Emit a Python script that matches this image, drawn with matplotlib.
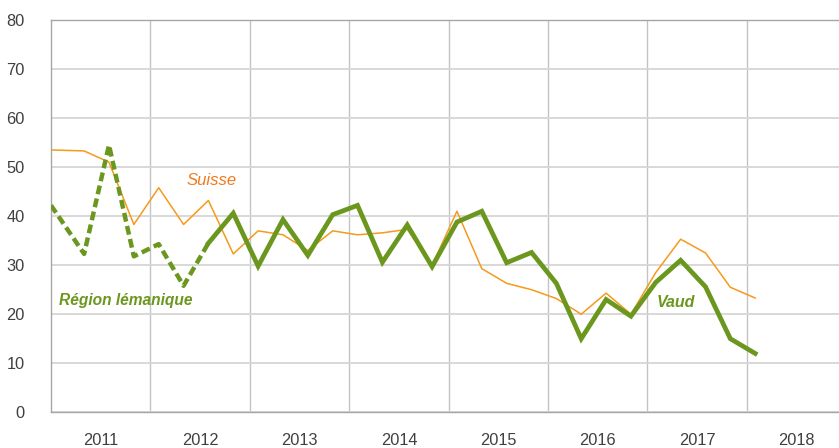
import numpy as np
import matplotlib
matplotlib.use("Agg")
import matplotlib.pyplot as plt
from matplotlib.ticker import FixedLocator, NullFormatter

plt.rcParams['font.family'] = ['Liberation Sans', 'DejaVu Sans']

# observation dates (year, month)
years = [2011, 2011, 2011, 2011,
         2012, 2012, 2012, 2012,
         2013, 2013, 2013, 2013,
         2014, 2014, 2014, 2014,
         2015, 2015, 2015, 2015,
         2016, 2016, 2016, 2016,
         2017, 2017, 2017, 2017,
         2018]
months = [1, 5, 8, 11] + [2, 5, 8, 11] * 6 + [2]

suisse = [53.5, 53.3, 51.0, 38.3,
          45.8, 38.3, 43.2, 32.3,
          37.0, 36.2, 33.0, 37.0,
          36.2, 36.6, 37.3, 30.0,
          41.0, 29.3, 26.3, 25.0,
          23.2, 20.0, 24.3, 20.0,
          28.5, 35.3, 32.5, 25.5,
          23.3]
# Région lémanique up to 2012-08, then Vaud
lemanique = [42.2, 32.3, 54.5, 31.8, 34.3, 25.8, 34.5]
vaud = [34.5, 40.6,
        29.8, 39.3, 32.0, 40.3,
        42.2, 30.6, 38.2, 29.7,
        38.8, 41.0, 30.5, 32.6,
        26.3, 15.0, 23.0, 19.6,
        26.5, 31.0, 25.6, 15.0,
        12.0]
year_labels = ['2011', '2012', '2013', '2014', '2015', '2016', '2017', '2018']
y_ticks = [0, 10, 20, 30, 40, 50, 60, 70, 80]

x = np.array(years) + (np.array(months) - 1) / 12.0
x_lem = x[:len(lemanique)]
x_vaud = x[len(lemanique) - 1:]

orange = '#f59a1b'
green = '#6b971f'

fig = plt.figure(figsize=(8.39, 4.48), dpi=100)
ax = fig.add_axes([51 / 839, 1 - 412.3 / 448, 1 - 51 / 839 + 0.004, (412.3 - 20) / 448])

ax.plot(x, suisse, color=orange, lw=1.1, zorder=3)
ax.plot(x_lem, lemanique, color=green, lw=3.2, dashes=(2.0, 1.0), zorder=4)
ax.plot(x_vaud, vaud, color=green, lw=3.4, solid_joinstyle='miter', zorder=4)

ax.set_xlim(2011.0, 2018.96)
ax.set_ylim(0, 80)

yr = np.arange(2011, 2019)
ax.xaxis.set_major_locator(FixedLocator(yr + 0.5))
ax.set_xticklabels(year_labels)
ax.xaxis.set_minor_locator(FixedLocator(yr[1:]))
ax.xaxis.set_minor_formatter(NullFormatter())
ax.set_yticks(y_ticks)

ax.tick_params(axis='both', which='both', length=0, labelsize=11.8, colors='#404040')
ax.tick_params(axis='y', pad=19)
ax.tick_params(axis='x', pad=15)

ax.grid(axis='y', color='#d6d6d6', lw=1.3, zorder=0)
ax.grid(axis='x', which='minor', color='#c3c3c3', lw=1.0, zorder=0)
ax.set_axisbelow(True)

for s in ['top', 'right']:
    ax.spines[s].set_visible(False)
ax.axhline(80, color='#a6a6a6', lw=1.0, zorder=1, clip_on=False)
ax.spines['left'].set_color('#a6a6a6')
ax.spines['bottom'].set_color('#a6a6a6')
ax.spines['left'].set_linewidth(1.0)
ax.spines['bottom'].set_linewidth(1.0)

ax.text(2012.62, 47.2, 'Suisse', color='#f07b1e', fontsize=12, style='italic',
        ha='center', va='center')
ax.text(2011.08, 22.9, 'Région lémanique', color=green, fontsize=11.2, style='italic',
        fontweight='bold', ha='left', va='center')
ax.text(2017.29, 22.3, 'Vaud', color=green, fontsize=11.5, style='italic',
        fontweight='bold', ha='center', va='center')

fig.savefig('out.png', dpi=100)
